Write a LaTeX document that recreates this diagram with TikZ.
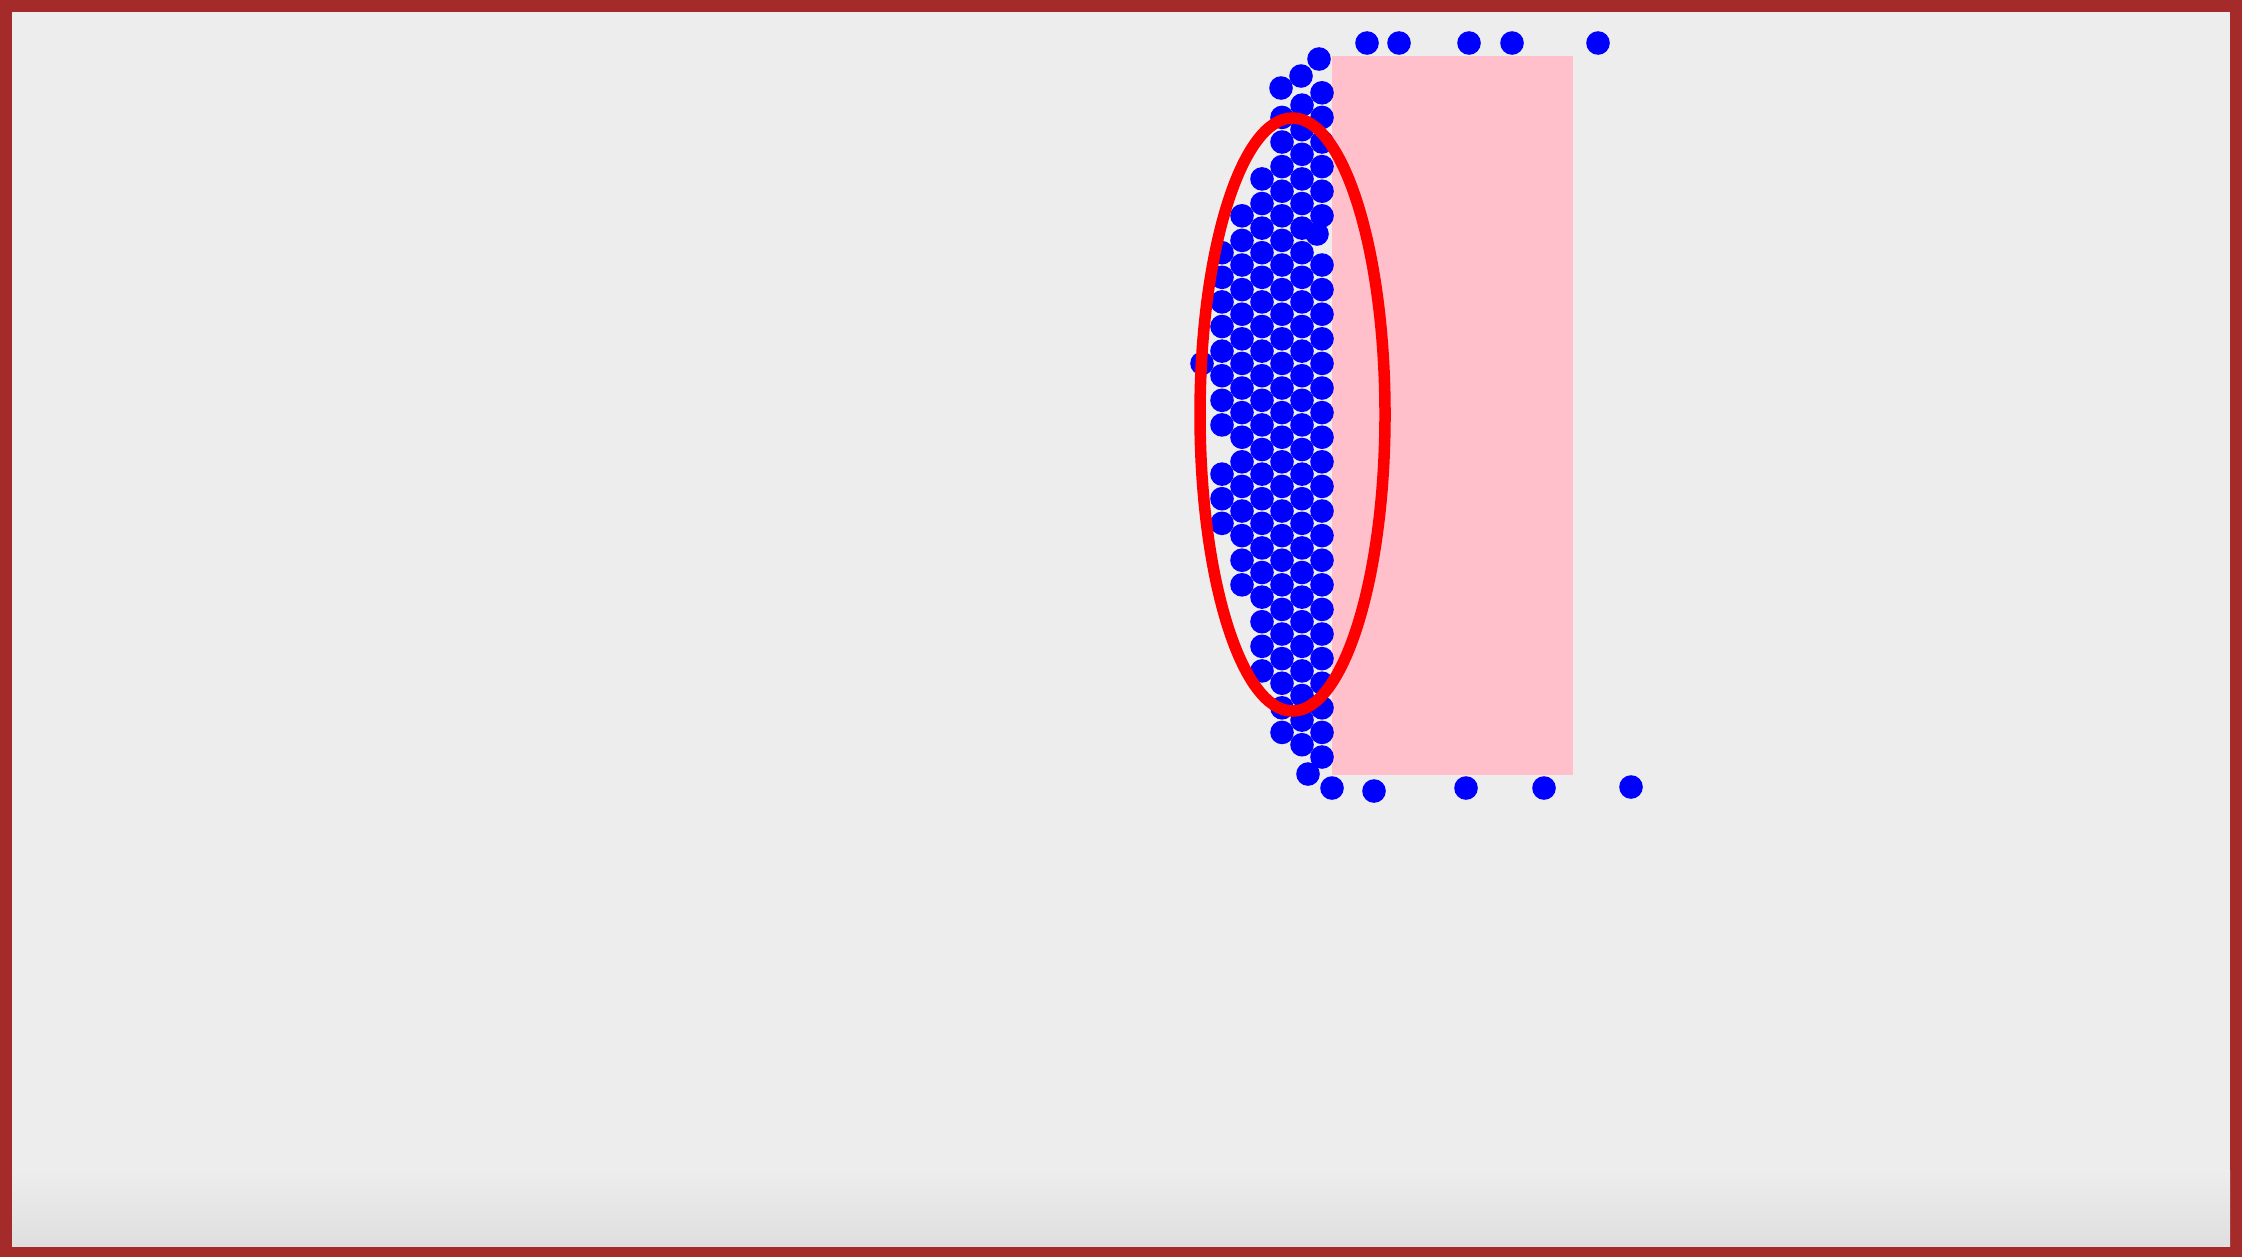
\documentclass[tikz,border=0pt]{standalone}
\usepackage{tikz}
\definecolor{framebrown}{RGB}{165,42,42}
\definecolor{canvasgray}{RGB}{237,237,237}
\definecolor{obstaclepink}{RGB}{255,192,203}

\begin{document}
\begin{tikzpicture}[
  x=0.1mm, y=-0.1mm,
  particle/.style={fill=blue},
  obstacle/.style={fill=obstaclepink},
  marker/.style={draw=red, line width=1.15mm}
]
  \useasboundingbox (0,0) rectangle (2242,1257);
  % frame and canvas
  \fill[framebrown] (0,0) rectangle (2242,1257);
  \fill[canvasgray] (12,12) rectangle (2230,1246);
  \shade[top color=canvasgray, bottom color=canvasgray!94!black] (12,1170) rectangle (2230,1246);
  % obstacle
  \fill[obstacle] (1332,56) rectangle (1573,775);
  % packed particles: column x / row offset / first row / last row
  \foreach \cx/\cy/\na/\nb in {1202/142/9/9, 1222/129.7/5/12, 1222/129.7/14/16,
      1242/142/3/18, 1262/129.7/2/22, 1282/142/-1/24, 1302/129.7/-1/25,
      1322/142/-2/3, 1322/142/5/25}
    \foreach \n in {\na,...,\nb}
      \fill[particle] ({\cx},{\cy+24.6*(\n)}) circle[radius=11.8];
  % loose particles
  \foreach \px/\py in {1319/59, 1301/76, 1281/88, 1317/234, 1308/774,
      1367/43, 1399/43, 1469/43, 1512/43, 1598/43,
      1332/788, 1374/791, 1466/788, 1544/788, 1631/787}
    \fill[particle] (\px,\py) circle[radius=11.8];
  % highlighted cluster
  \draw[marker] (1292.5,414.5) ellipse[x radius=92.5, y radius=296.5];
\end{tikzpicture}
\end{document}
